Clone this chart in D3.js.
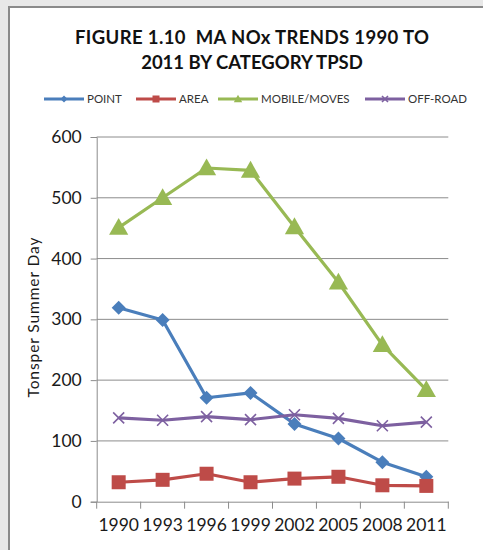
<!DOCTYPE html>
<html><head><meta charset="utf-8">
<script src="https://cdn.jsdelivr.net/npm/d3@7"></script>
<style>body{margin:0;background:#fff}svg{display:block}</style>
</head><body>
<svg id="c" width="483" height="550"></svg>
<script>
const years = ["1990","1993","1996","1999","2002","2005","2008","2011"];
const point  = [319, 299, 171, 179, 128, 104, 65, 41];
const area   = [32, 36, 46, 32, 38, 41, 27, 26];
const mobile = [451, 500, 549, 545, 452, 361, 258, 184];
const offroad= [138, 134, 140, 135, 143, 137, 125, 131];
const yTicks = [0,100,200,300,400,500,600];
const seriesNames = ["POINT","AREA","MOBILE/MOVES","OFF-ROAD"];

const series = [
  {name: seriesNames[0], values: point,  color:"#4a7ebb", marker:"diamond"},
  {name: seriesNames[1], values: area,   color:"#be4b48", marker:"square"},
  {name: seriesNames[2], values: mobile, color:"#98b954", marker:"triangle"},
  {name: seriesNames[3], values: offroad,color:"#7d60a0", marker:"x"}
];

const FONT = "Lato, 'Open Sans', sans-serif";
const svg = d3.select("#c");
// frame
svg.append("rect").attr("x",0).attr("y",0).attr("width",483).attr("height",550).attr("fill","#e8e8e8");
svg.append("rect").attr("x",9).attr("y",7).attr("width",480).attr("height",550).attr("fill","#fff");
svg.append("line").attr("x1",9).attr("x2",9).attr("y1",6).attr("y2",550).attr("stroke","#8a8a8a").attr("stroke-width",2);
svg.append("line").attr("x1",8).attr("x2",483).attr("y1",7).attr("y2",7).attr("stroke","#8a8a8a").attr("stroke-width",2);

const L=96.7, R=448.3, T=137, B=501.7;
const x = d3.scaleBand().domain(years).range([L,R]);
const y = d3.scaleLinear().domain([0,600]).range([B,T]);

// gridlines
svg.append("g").selectAll("line").data(yTicks.filter(d=>d>0)).join("line")
  .attr("x1",L).attr("x2",R).attr("y1",d=>y(d)).attr("y2",d=>y(d))
  .attr("stroke","#8c8c8c").attr("stroke-width",1);

// y axis
const ya = svg.append("g").attr("transform",`translate(${L},0)`)
  .call(d3.axisLeft(y).tickValues(yTicks).tickSize(6).tickPadding(9));
ya.select(".domain").attr("stroke","#8c8c8c");
ya.selectAll(".tick line").attr("stroke","#8c8c8c");
ya.selectAll("text").attr("font-family",FONT).attr("font-size",17.5).attr("fill","#1a1a1a");

// x axis
const xa = svg.append("g").attr("transform",`translate(0,${B})`)
  .call(d3.axisBottom(x).tickSize(0).tickPadding(17));
xa.select(".domain").attr("stroke","#8c8c8c");
xa.selectAll("text").attr("font-family",FONT).attr("font-size",17.5).attr("fill","#1a1a1a");
// boundary tick marks
const bounds = years.map(d=>x(d)).concat([R]);
svg.append("g").selectAll("line").data(bounds).join("line")
  .attr("x1",d=>d).attr("x2",d=>d).attr("y1",B).attr("y2",B+7)
  .attr("stroke","#8c8c8c");

// y label
svg.append("text").attr("transform",`translate(39,${(237+398)/2}) rotate(-90)`)
  .attr("text-anchor","middle").attr("font-family",FONT)
  .attr("font-size",15.5).attr("fill","#1a1a1a")
  .attr("textLength",160).attr("lengthAdjust","spacing")
  .text("Tonsper Summer Day");

// title
const title = svg.append("text").attr("text-anchor","middle")
  .attr("font-family",FONT).attr("font-weight","bold")
  .attr("font-size",18.5).attr("fill","#111").style("white-space","pre");
title.append("tspan").attr("x",252).attr("y",44).attr("textLength",354).text("FIGURE 1.10  MA NOx TRENDS 1990 TO");
title.append("tspan").attr("x",252).attr("y",69).text("2011 BY CATEGORY TPSD");

function marker(g, type, color, s){
  const h=s/2;
  if(type==="diamond"){
    g.append("path").attr("d",`M0,${-h}L${h},0L0,${h}L${-h},0Z`).attr("fill",color);
  } else if(type==="square"){
    g.append("rect").attr("x",-h).attr("y",-h).attr("width",s).attr("height",s).attr("fill",color);
  } else if(type==="triangle"){
    g.append("path").attr("d",`M0,${-s*0.6}L${s*0.6},${s*0.45}L${-s*0.6},${s*0.45}Z`).attr("fill",color);
  } else {
    g.append("path").attr("d",`M${-h},${-h}L${h},${h}M${-h},${h}L${h},${-h}`).attr("stroke",color).attr("stroke-width",1.6);
  }
}
const msize = {diamond:14, square:14, triangle:16, x:11};

const line = d3.line().x((d,i)=>x(years[i])+x.bandwidth()/2).y(d=>y(d));
series.forEach(s=>{
  svg.append("path").datum(s.values).attr("d",line).attr("fill","none")
    .attr("stroke",s.color).attr("stroke-width",3.2).attr("stroke-linejoin","round");
  s.values.forEach((v,i)=>{
    const g = svg.append("g").attr("transform",`translate(${x(years[i])+x.bandwidth()/2},${y(v)})`);
    marker(g, s.marker, s.color, msize[s.marker]);
  });
});

// legend
const legX = [44, 136, 218, 365];
series.forEach((s,i)=>{
  const g = svg.append("g").attr("transform",`translate(${legX[i]},99)`);
  g.append("line").attr("x1",0).attr("x2",40).attr("y1",0).attr("y2",0).attr("stroke",s.color).attr("stroke-width",3);
  const m = g.append("g").attr("transform","translate(20,0)");
  marker(m, s.marker, s.color, s.marker==="x"?6:7);
  g.append("text").attr("x",43).attr("y",4).attr("font-family",FONT)
    .attr("font-size",11.5).attr("fill","#333").text(s.name);
});
</script>
</body></html>
